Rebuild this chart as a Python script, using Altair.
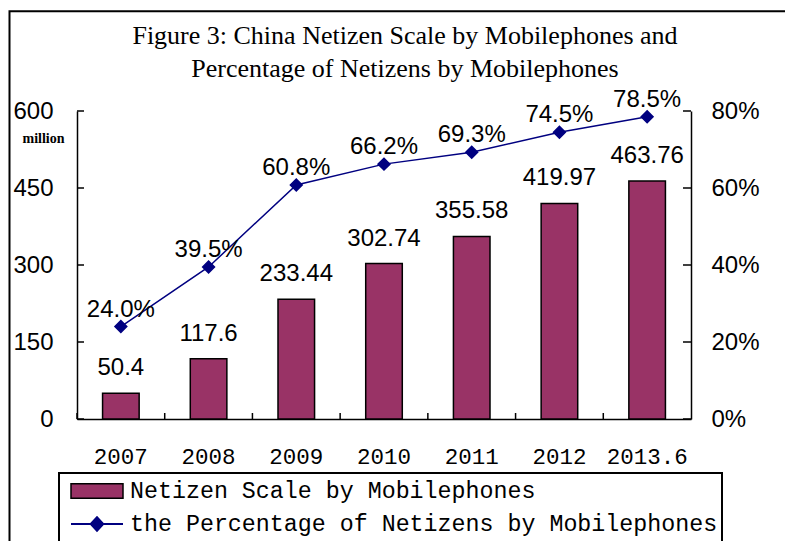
import altair as alt
import pandas as pd

# ---- data ----
categories = ["2007", "2008", "2009", "2010", "2011", "2012", "2013.6"]
netizens_million = [50.4, 117.6, 233.44, 302.74, 355.58, 419.97, 463.76]
percent_mobile = [24.0, 39.5, 60.8, 66.2, 69.3, 74.5, 78.5]
left_tick_values = [0, 150, 300, 450, 600]
right_tick_values = [0, 20, 40, 60, 80]
series_names = ["Netizen Scale by Mobilephones",
                "the Percentage of Netizens by Mobilephones"]
title_lines = ["Figure 3: China Netizen Scale by Mobilephones and",
               "Percentage of Netizens by Mobilephones"]
unit_label = "million"

df = pd.DataFrame({"cat": categories, "v": netizens_million,
                   "pct": percent_mobile,
                   "s1": series_names[0], "s2": series_names[1]})

W, H = 614, 308
BAR_COLOR = "#993366"
LINE_COLOR = "#000080"

base = alt.Chart(df)

x_axis = alt.Axis(title=None, labelFont="Liberation Mono", labelFontSize=22.5,
                  labelAngle=0, labelBaseline="alphabetic", labelPadding=44,
                  ticks=False, domainColor="black", domainWidth=1.5,
                  labelColor="black", grid=False)
x_scale = alt.Scale(paddingInner=0, paddingOuter=0)
xenc = alt.X("cat:N", sort=categories, scale=x_scale, axis=x_axis)

left_scale = alt.Scale(domain=[0, 600], nice=False)
right_scale = alt.Scale(domain=[0, 80], nice=False)

rect_path = "M-1,-0.28H1V0.28H-1Z"
line_path = "M-1,0H1M-0.24,0L0,-0.26L0.24,0L0,0.26Z"

legend_common = dict(title=None, orient="none", direction="vertical", padding=0,
                     symbolSize=2704, labelFont="Liberation Mono",
                     labelFontSize=23.3, labelColor="black", labelOffset=6,
                     clipHeight=24, labelLimit=900)

one_row = alt.Data(values=[{"k": 0}])

frame = alt.Chart(one_row).mark_rect(fillOpacity=0, stroke="black",
                                     strokeWidth=2).encode(
    x=alt.value(-67.5), x2=alt.value(900), y=alt.value(-99.7), y2=alt.value(700))

legend_box = alt.Chart(one_row).mark_rect(fill="white", stroke="black",
                                          strokeWidth=2).encode(
    x=alt.value(-18), x2=alt.value(645), y=alt.value(362), y2=alt.value(431))

bars = base.mark_bar(width=alt.RelativeBandSize(0.417), stroke="black",
                     strokeWidth=1.5).encode(
    x=xenc,
    y=alt.Y("v:Q", scale=left_scale,
            axis=alt.Axis(values=left_tick_values, title=None,
                          labelFont="Liberation Sans", labelFontSize=24,
                          labelPadding=24, ticks=False,
                          domainColor="black", domainWidth=1.5,
                          grid=False, labelColor="black")),
    fill=alt.Fill("s1:N", scale=alt.Scale(domain=[series_names[0]], range=[BAR_COLOR]),
                  legend=alt.Legend(legendX=-7, legendY=368, symbolType=rect_path,
                                    symbolStrokeColor="black", symbolStrokeWidth=1.5,
                                    **legend_common)),
)

bar_labels = base.mark_text(font="Liberation Sans", fontSize=24,
                            baseline="alphabetic", dy=-18, color="black").encode(
    x=xenc, y=alt.Y("v:Q", scale=left_scale, axis=None), text="v:N")

x_ticks = base.mark_rule(color="black", strokeWidth=1.5).encode(
    x=alt.X("cat:N", sort=categories, scale=x_scale, axis=x_axis, bandPosition=0),
    y=alt.value(H), y2=alt.value(H - 6))

left_ticks = alt.Chart(pd.DataFrame({"v": left_tick_values})).mark_rule(
    color="black", strokeWidth=1.5).encode(
    y=alt.Y("v:Q", scale=left_scale, axis=None), x=alt.value(0), x2=alt.value(7))

title_text = alt.Chart(one_row).mark_text(
    text=title_lines, font="Liberation Serif", fontSize=26, lineHeight=33,
    align="center", baseline="alphabetic", color="black").encode(
    x=alt.value(328), y=alt.value(-67))

unit_text = alt.Chart(one_row).mark_text(
    text=unit_label, font="Liberation Serif", fontSize=14, fontWeight="bold",
    align="center", baseline="alphabetic", color="black").encode(
    x=alt.value(-33.5), y=alt.value(32))

line = base.mark_line(color=LINE_COLOR, strokeWidth=1.5).encode(
    x=xenc,
    y=alt.Y("pct:Q", scale=right_scale,
            axis=alt.Axis(orient="right", values=right_tick_values, title=None,
                          labelExpr="datum.value + '%'",
                          labelFont="Liberation Sans", labelFontSize=24,
                          labelPadding=20, ticks=False,
                          domainColor="black", domainWidth=1.5,
                          grid=False, labelColor="black")))

points = base.mark_point(shape="diamond", filled=True, size=140,
                         stroke=LINE_COLOR, strokeWidth=1.5, opacity=1).encode(
    x=xenc, y=alt.Y("pct:Q", scale=right_scale, axis=None),
    color=alt.Color("s2:N", scale=alt.Scale(domain=[series_names[1]], range=[LINE_COLOR]),
                    legend=alt.Legend(legendX=-7, legendY=401, symbolType=line_path,
                                      symbolStrokeColor=LINE_COLOR,
                                      symbolFillColor=LINE_COLOR,
                                      symbolStrokeWidth=2, **legend_common)))

pct_labels = base.transform_calculate(
    plabel="format(datum.pct, '.1f') + '%'").mark_text(
    font="Liberation Sans", fontSize=24, baseline="alphabetic", dy=-10,
    color="black").encode(
    x=xenc, y=alt.Y("pct:Q", scale=right_scale, axis=None), text="plabel:N")

right_ticks = alt.Chart(pd.DataFrame({"pct": right_tick_values})).mark_rule(
    color="black", strokeWidth=1.5).encode(
    y=alt.Y("pct:Q", scale=right_scale, axis=None), x=alt.value(W), x2=alt.value(W - 8))

chart = alt.layer(
    bars, line, frame, legend_box, bar_labels, x_ticks, left_ticks,
    title_text, unit_text, points, pct_labels, right_ticks,
).resolve_scale(y="independent").properties(
    width=W, height=H,
    autosize=alt.AutoSizeParams(type="none"),
    padding={"left": 69, "top": 103, "right": 94, "bottom": 122},
    background="white",
).configure_view(strokeWidth=0)

chart.save("out.html", embed_options={"renderer": "svg", "actions": False})
